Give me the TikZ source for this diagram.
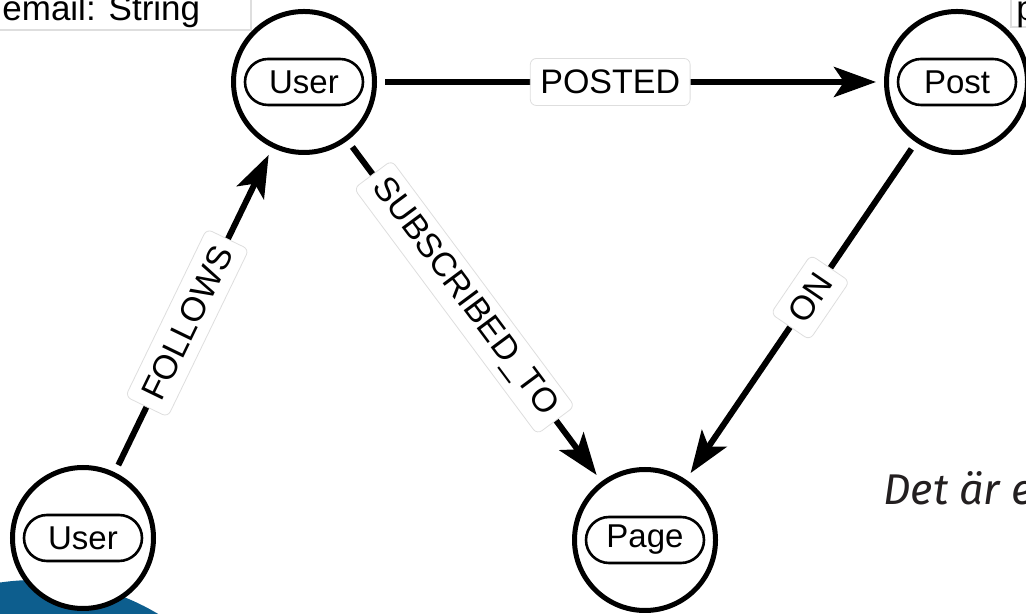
\documentclass[tikz,border=0pt]{standalone}
\usepackage{fontspec}
\setmainfont{Liberation Sans}
\newfontfamily\detfont{Fira Sans}
\usetikzlibrary{arrows.meta}
\definecolor{blobBlue}{RGB}{13,94,142}
\definecolor{boxGray}{RGB}{222,222,222}
\definecolor{detGray}{RGB}{35,31,32}
\tikzstyle{entNode} = [circle, minimum size=70.5pt, inner sep=0pt, line width=2.5pt, draw=black, fill=white]
\tikzstyle{tagNode} = [rectangle, minimum width=59pt, minimum height=23pt, inner sep=2pt, rounded corners=11.5pt, line width=1.3pt, draw=black, fill=white, font=\fontsize{16.5}{19}\selectfont]
\tikzstyle{relNode} = [rectangle, minimum height=23.5pt, inner xsep=5pt, inner ysep=3pt, rounded corners=3pt, line width=0.4pt, draw=boxGray, fill=white, font=\fontsize{17}{20}\selectfont, sloped, pos=0.46]
\tikzstyle{attrNode} = [anchor=base west, inner sep=0pt, font=\fontsize{17.5}{20}\selectfont]
\tikzstyle{arrow} = [line width=3pt, -{Stealth[length=21pt, width=15pt, inset=5pt]}, shorten <=4pt, shorten >=4pt, draw=black]

\begin{document}
\begin{tikzpicture}[x=0.5pt, y=0.5pt]
        \useasboundingbox (0,0) rectangle (1026,614);
        \clip (0,0) rectangle (1026,614);
        \fill [blobBlue] (35,-206) circle [radius=120pt];

        % property boxes, cut by the edge
        \draw [boxGray, line width=0.6pt, fill=white] (-5,584) rectangle (251,620);
        \node (email) [attrNode] at (2,593) {email: String};
        \draw [boxGray, line width=0.6pt, fill=white] (1011,587) rectangle (1040,620);
        \node (postProp) [attrNode] at (1016,593) {p};

        \node (userA) [entNode] at (304,532) {};
        \node (post) [entNode] at (957,532) {};
        \node (userB) [entNode] at (83,76) {};
        \node (page) [entNode] at (645,74) {};
        \node (userAtag) [tagNode] at (userA) {User};
        \node (postTag) [tagNode] at (post) {Post};
        \node (userBtag) [tagNode] at (userB) {User};
        \node (pageTag) [tagNode] at (page) {Page};

        \draw [arrow] (userA) -- node[relNode] {POSTED} (post);
        \draw [arrow] (userB) -- node[relNode] {FOLLOWS} (userA);
        \draw [arrow] (userA) -- node[relNode] {SUBSCRIBED\_TO} (page);
        \draw [arrow] (post) -- node[relNode] {ON} (page);

        \node (detText) [anchor=base west, inner sep=0pt, text=detGray, font=\detfont\itshape\fontsize{21.5}{25}\selectfont] at (883,109) {Det är e};
    \end{tikzpicture}
\end{document}
